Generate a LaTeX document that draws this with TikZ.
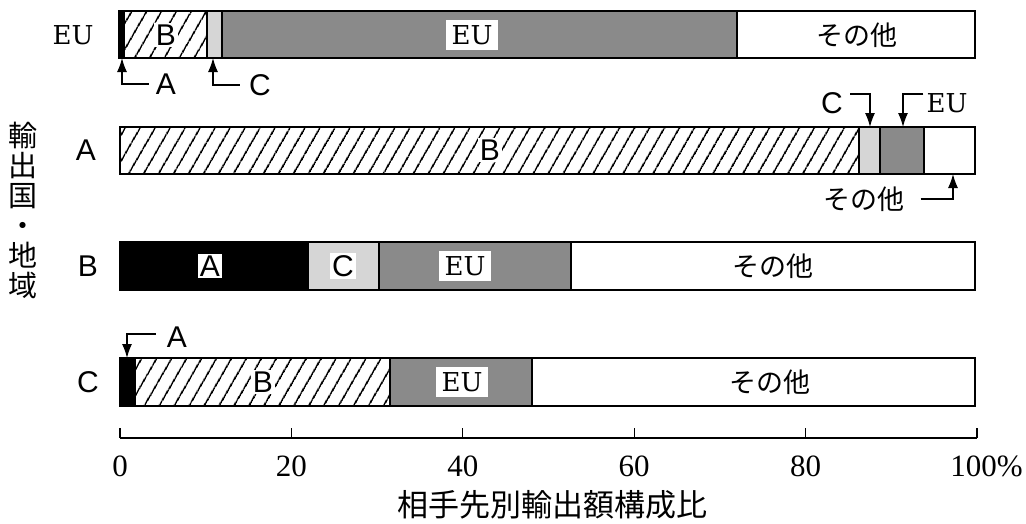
\documentclass[tikz,border=0pt]{standalone}
\usepackage{fontspec}
\setmainfont{Liberation Serif}
\setsansfont{Liberation Sans}
\newfontfamily\cjk{Noto Sans CJK JP}
\newfontfamily\eufont{DejaVu Serif}
\usetikzlibrary{patterns.meta,arrows.meta}
\begin{document}
\begin{tikzpicture}[x=1pt,y=-1pt,
  seg/.style={draw=black,line width=1.4pt},
  segA/.style={seg,fill=black},
  segB/.style={seg,pattern={Lines[angle=60,distance=13pt,line width=1.8pt]}},
  segC/.style={seg,fill=black!16},
  segE/.style={seg,fill=black!46},
  segO/.style={seg,fill=white},
  outline/.style={draw=black,line width=2pt},
  lbl/.style={font=\sffamily\fontsize{30}{30}\selectfont,inner sep=2pt},
  lblbox/.style={lbl,fill=white},
  eul/.style={font=\eufont\fontsize{26}{26}\selectfont,inner sep=2pt},
  eubox/.style={eul,fill=white,inner xsep=6pt,inner ysep=5pt},
  jp/.style={font=\cjk\fontsize{27}{27}\selectfont,inner sep=2pt},
  num/.style={font=\rmfamily\fontsize{31}{31}\selectfont,inner sep=0pt},
  arr/.style={-{Latex[length=14pt,width=10pt]},line width=1.3pt}]
\useasboundingbox (0,0) rectangle (1026,523);
% EU bar
\path[segA] (119,11) rectangle (124,58);
\path[segB] (124,11) rectangle (207,58);
\path[segC] (207,11) rectangle (222,58);
\path[segE] (222,11) rectangle (737,58);
\path[segO] (737,11) rectangle (975,58);
\path[outline] (119,11) rectangle (975,58);
% A bar
\path[segB] (120,127) rectangle (859,174);
\path[segC] (859,127) rectangle (880,174);
\path[segE] (880,127) rectangle (924,174);
\path[segO] (924,127) rectangle (975,174);
\path[outline] (120,127) rectangle (975,174);
% B bar
\path[segA] (120,242) rectangle (308,290);
\path[segC] (308,242) rectangle (379,290);
\path[segE] (379,242) rectangle (571,290);
\path[segO] (571,242) rectangle (975,290);
\path[outline] (120,242) rectangle (975,290);
% C bar
\path[segA] (120,358) rectangle (135,406);
\path[segB] (135,358) rectangle (390,406);
\path[segE] (390,358) rectangle (532,406);
\path[segO] (532,358) rectangle (975,406);
\path[outline] (120,358) rectangle (975,406);
% labels inside bars
\node[lblbox] (eB) at (166,35) {B};
\node[eubox] (eEU) at (472,35) {EU};
\node[jp] (eO) at (857,35) {その他};
\node[lblbox] (aB) at (490,150) {B};
\node[lblbox] (bA) at (210,266) {A};
\node[lblbox] (bC) at (343,266) {C};
\node[eubox] (bEU) at (465,266) {EU};
\node[jp] (bO) at (773,266) {その他};
\node[lblbox] (cB) at (263,382) {B};
\node[eubox] (cEU) at (462,382) {EU};
\node[jp] (cO) at (770,382) {その他};
% row labels
\node[eul] (rEU) at (73,35) {EU};
\node[lbl] (rA) at (86,150) {A};
\node[lbl] (rB) at (88,266) {B};
\node[lbl] (rC) at (88,382) {C};
% vertical label
\node[font=\cjk\fontsize{29}{30}\selectfont,align=center,inner sep=0pt] (ylab) at (23,210) {輸\\出\\国\\・\\地\\域};
% annotations
\coordinate (tEA) at (122,58);
\coordinate (tEC) at (213,58);
\node[lbl] (nEA) at (166,84) {A};
\node[lbl] (nEC) at (260,85) {C};
\draw[arr] ([xshift=-5pt]nEA.west) -| (tEA);
\draw[arr] ([xshift=-7pt]nEC.west) -| (tEC);
\coordinate (tAC) at (870,127);
\coordinate (tAEU) at (903,127);
\coordinate (tAO) at (953,174);
\node[lbl] (nAC) at (832,103) {C};
\node[eul] (nAEU) at (947,103) {EU};
\node[jp] (nAO) at (864,199) {その他};
\draw[arr] ([xshift=5pt,yshift=9pt]nAC.east) -| (tAC);
\draw[arr] ([xshift=-1pt,yshift=9pt]nAEU.west) -| (tAEU);
\draw[arr] ([xshift=14pt]nAO.east) -| (tAO);
\coordinate (tCA) at (127,358);
\node[lbl] (nCA) at (177,337) {A};
\draw[arr] ([xshift=-9pt,yshift=3pt]nCA.west) -| (tCA);
% axis
\draw[line width=1.5pt] (120,438) coordinate (ax0) -- (977,438) coordinate (ax1);
\foreach \p/\t in {0/0,1/20,2/40,3/60,4/80} {
  \draw[line width=1.2pt] (120+171.4*\p,428) -- (120+171.4*\p,438);
  \node[num] (tk\p) at (120+171.4*\p,466) {\t};
}
\draw[line width=1.2pt] (977,428) -- (977,438);
\node[num,anchor=east] (tk5) at (1023,466) {100\%};
\node[font=\cjk\fontsize{31}{31}\selectfont,inner sep=0pt] (title) at (552,505) {相手先別輸出額構成比};
\end{tikzpicture}
\end{document}
